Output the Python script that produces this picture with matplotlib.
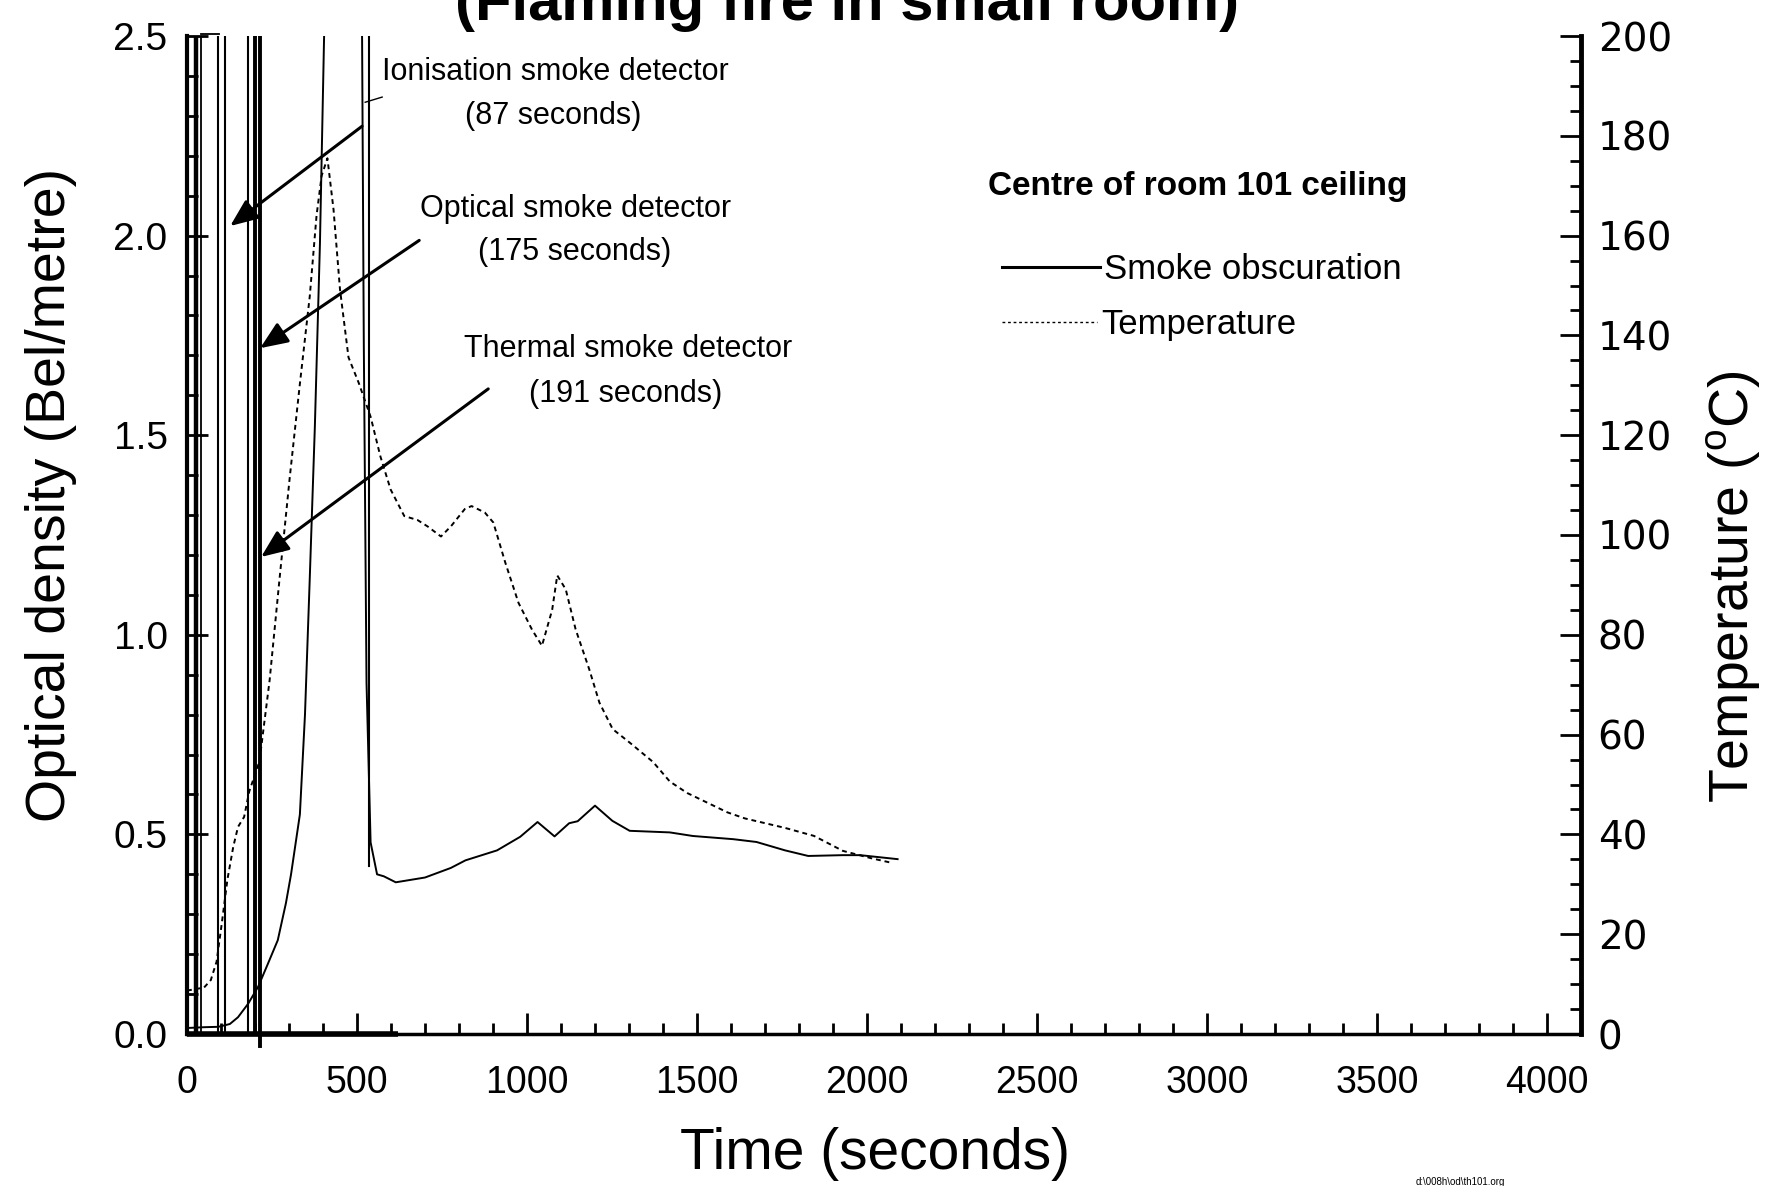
import matplotlib
matplotlib.use("Agg")
import matplotlib.pyplot as plt
from matplotlib import font_manager
from matplotlib.ticker import MultipleLocator, FormatStrFormatter

# smoke obscuration (optical density, Bel/metre)
smoke_t = [0, 50, 92, 126, 150, 180, 209, 238, 267, 291, 306, 332, 347, 361, 376,
           391, 403, 410, 510, 515, 520, 528, 540, 559, 579, 614, 700, 776, 819,
           912, 980, 1031, 1081, 1124, 1149, 1200, 1251, 1302, 1420, 1488, 1607,
           1675, 1759, 1827, 1929, 1980, 2090]
smoke_od = [0.015, 0.017, 0.018, 0.025, 0.042, 0.076, 0.118, 0.176, 0.235, 0.328,
            0.40, 0.55, 0.80, 1.14, 1.52, 1.98, 2.49, 2.75, 2.75, 2.49, 1.73, 0.88,
            0.48, 0.40, 0.395, 0.38, 0.392, 0.416, 0.435, 0.46, 0.494, 0.531, 0.495,
            0.528, 0.533, 0.572, 0.534, 0.509, 0.505, 0.496, 0.488, 0.481, 0.46,
            0.446, 0.448, 0.448, 0.438]

# ceiling temperature (deg C)
temp_t = [0, 50, 70, 87, 102, 119, 136, 150, 168, 183, 213, 243, 272, 302, 332, 361,
          381, 396, 413, 431, 450, 475, 505, 540, 569, 599, 639, 678, 708, 747, 777,
          817, 837, 876, 901, 936, 975, 1015, 1044, 1074, 1089, 1114, 1143, 1183,
          1213, 1252, 1302, 1371, 1420, 1471, 1590, 1641, 1759, 1844, 1929, 2014, 2073]
temp_c = [8.7, 9.3, 10.8, 14.5, 22, 31, 37.5, 41.5, 43.5, 48.6, 54.6, 70.9, 91.1,
          111.4, 130.3, 147.8, 164, 172, 175.5, 165.2, 149.2, 135.6, 130.5, 123.7,
          115.7, 109.1, 103.8, 103.0, 101.7, 99.7, 101.8, 105.2, 105.8, 104.5, 102.5,
          94.5, 86.4, 81, 77.8, 85, 91.9, 89.1, 81.1, 73.1, 66.4, 61.1, 58.4, 54.5,
          50.6, 48.3, 44.4, 43.2, 41.3, 39.7, 36.7, 35.2, 34.3]

# stray vertical traces near the start (seconds) and their widths
trace_t = [25, 40, 92, 113, 178, 199, 216]
trace_lw = [3.2, 1.3, 1.5, 1.5, 1.5, 2.8, 2.8]
# short trace at ~535 s from 0.42 up to the top
drop_t = 535
drop_od = [0.42, 2.5]
# thick line along the base
base_t = [0, 620]
base_od = [0, 0]

detectors = ["Ionisation smoke detector", "Optical smoke detector", "Thermal smoke detector"]
detect_s = [87, 175, 191]

names = {f.name for f in font_manager.fontManager.ttflist}
narrow = "Liberation Sans Narrow" if "Liberation Sans Narrow" in names else "Liberation Sans"
plt.rcParams['font.family'] = ['Liberation Sans', 'DejaVu Sans']
plt.rcParams['mathtext.fontset'] = 'custom'
plt.rcParams['mathtext.rm'] = 'Liberation Sans'

W, H = 1786, 1186
fig = plt.figure(figsize=(W / 100, H / 100), dpi=100)
left, right, top, bottom = 187, 1581, 36, 1034
ax = fig.add_axes([left / W, 1 - bottom / H, (right - left) / W, (bottom - top) / H])
ax2 = ax.twinx()

ax.set_xlim(0, 4100)
ax.set_ylim(0, 2.5)
ax2.set_ylim(0, 200)

# traces
for t, lw in zip(trace_t, trace_lw):
    ax.plot([t, t], [0, 2.5], color='black', lw=lw)
ax.plot([216, 216], [-0.03, 0], color='black', lw=2.8, clip_on=False)
ax.plot([40, 95], [2.505, 2.505], color='black', lw=1.3, clip_on=False)
ax.plot([drop_t, drop_t], drop_od, color='black', lw=1.5)
ax.plot(base_t, base_od, color='black', lw=4, clip_on=False, solid_capstyle='butt')

ax.plot(smoke_t, smoke_od, color='black', lw=1.4)
ax2.plot(temp_t, temp_c, color='black', lw=1.4, ls=(0, (2.5, 2)))

# axes styling
for a in (ax, ax2):
    a.spines['top'].set_visible(False)
ax.spines['right'].set_visible(False)
ax2.spines['left'].set_visible(False)
ax2.spines['bottom'].set_visible(False)
ax.spines['left'].set_linewidth(3)
ax.spines['bottom'].set_linewidth(2.5)
ax2.spines['right'].set_linewidth(3.5)

ax.xaxis.set_minor_locator(MultipleLocator(100))
ax.set_xticks(range(0, 4001, 500))
ax.yaxis.set_major_locator(MultipleLocator(0.5))
ax.yaxis.set_minor_locator(MultipleLocator(0.1))
ax.yaxis.set_major_formatter(FormatStrFormatter('%.1f'))
ax2.yaxis.set_major_locator(MultipleLocator(20))
ax2.yaxis.set_minor_locator(MultipleLocator(5))

ax.tick_params(axis='both', which='major', direction='in', length=15, width=2)
ax.tick_params(axis='both', which='minor', direction='in', length=8, width=2)
ax.tick_params(axis='x', which='major', pad=22, labelsize=27)
ax.tick_params(axis='y', which='major', pad=14, labelsize=28)
ax2.tick_params(axis='y', which='major', direction='in', length=15, width=2, pad=12, labelsize=28)
ax2.tick_params(axis='y', which='minor', direction='in', length=8, width=2)
for lbl in ax.get_xticklabels():
    lbl.set_fontfamily(narrow)
for lbl in ax2.get_yticklabels():
    lbl.set_fontfamily('DejaVu Sans')

# axis titles
fig.text(875 / W, 1 - 1154 / H, 'Time (seconds)', ha='center', va='center',
         fontsize=41, family=narrow)
fig.text(51 / W, 1 - 495 / H, 'Optical density (Bel/metre)', ha='center', va='center',
         rotation=90, fontsize=40)
fig.text(1733 / W, 1 - 587 / H, 'Temperature ($^{\\mathrm{o}}$C)', ha='center', va='center',
         rotation=90, fontsize=40)
# title is cut off by the top edge of the scan
fig.text(847 / W, 1 - 20 / H, '(Flaming fire in small room)', ha='center', va='baseline',
         fontsize=43, fontweight='bold', family=narrow)
fig.text(1460 / W, 0.003, 'd:\\008h\\od\\th101.org', ha='center', va='center', fontsize=7)

# detector annotations
label_pos = [(1083, 2.41), (1142, 2.066), (1297, 1.715)]
sec_pos = [(1077, 2.30), (1139, 1.958), (1289, 1.602)]
arrows = [((515, 2.274), (127, 2.024)), ((683, 1.988), (215, 1.718)),
          ((886, 1.616), (218, 1.195))]
for name, s, lp, sp, (tail, tip) in zip(detectors, detect_s, label_pos, sec_pos, arrows):
    ax.text(lp[0], lp[1], name, ha='center', va='center', fontsize=22)
    ax.text(sp[0], sp[1], '(%d seconds)' % s, ha='center', va='center', fontsize=22)
    ax.annotate('', xy=tip, xytext=tail,
                arrowprops=dict(arrowstyle='-|>,head_length=0.6,head_width=0.25',
                                lw=2.2, color='black',
                                mutation_scale=28, shrinkA=0, shrinkB=0))
ax.plot([524, 574], [2.334, 2.347], color='black', lw=1)

ax.text(2972, 2.124, 'Centre of room 101 ceiling', ha='center', va='center',
        fontsize=24, fontweight='bold')
ax.plot([2398, 2684], [1.921, 1.921], color='black', lw=2.2)
ax.text(2696, 1.916, 'Smoke obscuration', ha='left', va='center', fontsize=25, family=narrow)
ax.plot([2398, 2675], [1.783, 1.783], color='black', lw=1, ls=(0, (2, 2)))
ax.text(2690, 1.778, 'Temperature', ha='left', va='center', fontsize=25, family=narrow)

fig.savefig('out.png', dpi=100)
